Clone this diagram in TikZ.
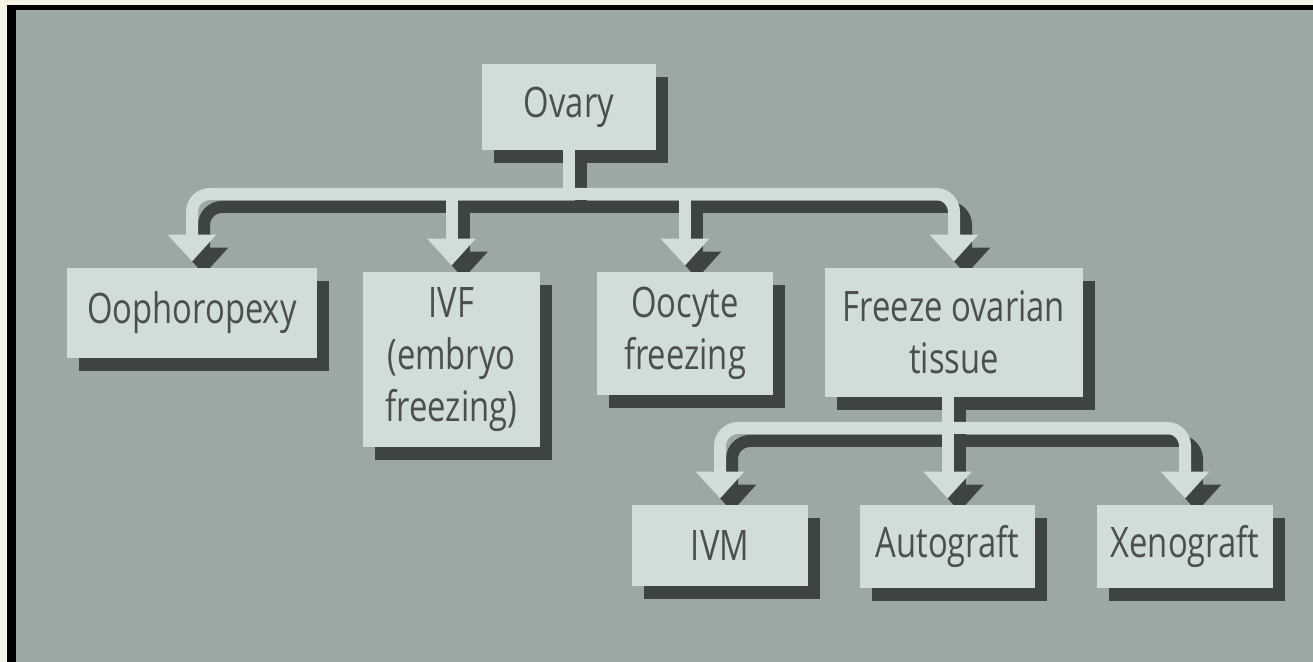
\documentclass[tikz,border=0pt]{standalone}
\usepackage{fontspec}
\setmainfont{Open Sans}[FakeStretch=0.78]
\usetikzlibrary{arrows.meta,calc}
\definecolor{bgc}{HTML}{9CA8A3}
\definecolor{lite}{HTML}{D1DDD7}
\definecolor{shad}{HTML}{3E4441}
\definecolor{txt}{HTML}{4A504D}
\definecolor{cream}{HTML}{F5F2E6}
\pgfdeclarelayer{boxshadow}
\pgfdeclarelayer{connshadow}
\pgfdeclarelayer{connlight}
\pgfsetlayers{boxshadow,connshadow,connlight,main}
\tikzset{
  box/.style={fill=lite, text=txt, inner sep=0pt, align=center,
    font=\fontsize{21pt}{26pt}\selectfont},
  link/.style={line width=6pt, rounded corners=9pt},
  arr/.style={link, -{Triangle[width=23.5pt,length=13.5pt]}, shorten >=3pt},
}
\newcommand\drawmylinks[1]{%
  \draw[link,#1] (ov.south) -- (bar1);
  \draw[arr,#1] (bar1) -| (oo.north);
  \draw[arr,#1] (bar1) -| (fz.north);
  \draw[arr,#1] (ivf.north |- bar1) -- (ivf.north);
  \draw[arr,#1] (ooc.north |- bar1) -- (ooc.north);
  \draw[arr,#1] (au.north |- fz.south) -- (au.north);
  \draw[arr,#1] (bar2) -| (ivm.north);
  \draw[arr,#1] (bar2) -| (xe.north);
}
\begin{document}
\begin{tikzpicture}[x=0.5pt,y=-0.5pt]
\useasboundingbox (0,0) rectangle (1313,662);
% nodes
\node[box, minimum width=87pt, minimum height=43pt] (ov) at (569,107) {Ovary};
\node[box, minimum width=125pt, minimum height=45pt] (oo) at (192,313) {Oophoropexy};
\node[box, minimum width=88.5pt, minimum height=87.5pt] (ivf) at (451.5,359.5) {IVF\\(embryo\\freezing)};
\node[box, minimum width=88pt, minimum height=61.5pt] (ooc) at (685,333.5) {Oocyte\\freezing};
\node[box, minimum width=129pt, minimum height=64.5pt] (fz) at (954,332.5) {Freeze ovarian\\tissue};
\node[box, minimum width=88pt, minimum height=40.5pt] (ivm) at (720,545.5) {IVM};
\node[box, minimum width=87.5pt, minimum height=41.5pt] (au) at (947.5,546.5) {Autograft};
\node[box, minimum width=88pt, minimum height=41.5pt] (xe) at (1185,546.5) {Xenograft};
\coordinate (bar1) at (569,194);
\coordinate (bar2) at (947.5,428);
\begin{pgfonlayer}{boxshadow}
  \fill[cream] (0,0) rectangle (1313,662);
  \fill[black] (7,5) rectangle (1313,662);
  \fill[bgc] (16,10) rectangle (1313,662);
  \foreach \n in {ov,oo,ivf,ooc,fz,ivm,au,xe}
    \fill[shad] ([shift={(12,13)}]\n.south west) rectangle ([shift={(12,13)}]\n.north east);
\end{pgfonlayer}
\begin{pgfonlayer}{connshadow}
  \drawmylinks{draw=shad, transform canvas={xshift=6pt,yshift=-6.5pt}}
\end{pgfonlayer}
\begin{pgfonlayer}{connlight}
  \drawmylinks{draw=lite}
\end{pgfonlayer}
\end{tikzpicture}
\end{document}
